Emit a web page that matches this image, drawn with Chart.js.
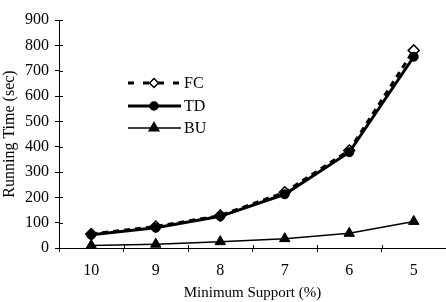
<!DOCTYPE html>
<html>
<head>
<meta charset="utf-8">
<script src="https://cdn.jsdelivr.net/npm/chart.js@4"></script>
<style>
  html, body { margin: 0; padding: 0; background: #fff; }
  #wrap { width: 446px; height: 302px; }
</style>
</head>
<body>
<div id="wrap"><canvas id="chart"></canvas></div>
<script>
const supports = ['10', '9', '8', '7', '6', '5'];
const fcTimes = [55, 85, 128, 220, 385, 780];
const tdTimes = [52, 80, 125, 212, 378, 755];
const buTimes = [10, 15, 25, 37, 58, 105];

const FONT = "'Liberation Serif', 'Times New Roman', serif";

// little in-plot legend, line + marker + label like the original figure
const legendBox = {
  id: 'legendBox',
  afterDraw(chart) {
    const ctx = chart.ctx;
    const rows = [
      { label: 'FC', y: 83, width: 3, dash: [6, 9], marker: 'rectRot', fill: '#fff', r: 4.5 },
      { label: 'TD', y: 106, width: 3, dash: [], marker: 'circle', fill: '#000', r: 4 },
      { label: 'BU', y: 128, width: 1.5, dash: [], marker: 'triangle', fill: '#000', r: 5.5 }
    ];
    ctx.save();
    rows.forEach(r => {
      ctx.strokeStyle = '#000';
      ctx.lineWidth = r.width;
      ctx.setLineDash(r.dash);
      ctx.beginPath();
      ctx.moveTo(128, r.y);
      ctx.lineTo(181, r.y);
      ctx.stroke();
      ctx.setLineDash([]);
      ctx.fillStyle = r.fill;
      ctx.lineWidth = 1.5;
      Chart.helpers.drawPoint(ctx, { pointStyle: r.marker, radius: r.r, borderWidth: 1.5 }, 154, r.y);
      ctx.fillStyle = '#000';
      ctx.font = '16px ' + FONT;
      ctx.textBaseline = 'middle';
      ctx.fillText(r.label, 184, r.y + 1);
    });
    ctx.restore();
  }
};

// tick marks that cross the axis lines
const innerTicks = {
  id: 'innerTicks',
  afterDraw(chart) {
    const ctx = chart.ctx;
    const x = chart.scales.x, y = chart.scales.y;
    ctx.save();
    ctx.strokeStyle = '#000';
    ctx.lineWidth = 1;
    ctx.beginPath();
    y.ticks.forEach((t, i) => {
      const py = Math.round(y.getPixelForTick(i)) + 0.5;
      ctx.moveTo(x.left, py);
      ctx.lineTo(x.left + 4, py);
    });
    for (let i = 0; i <= supports.length; i++) {
      const px = Math.round(x.left + (x.right - x.left) * i / supports.length) + 0.5;
      ctx.moveTo(px, y.bottom);
      ctx.lineTo(px, y.bottom - 3);
    }
    ctx.stroke();
    ctx.restore();
  }
};

new Chart(document.getElementById('chart'), {
  type: 'line',
  data: {
    labels: supports,
    datasets: [
      {
        label: 'BU',
        data: buTimes,
        borderColor: '#000',
        backgroundColor: '#000',
        borderWidth: 1.5,
        pointStyle: 'triangle',
        pointRadius: 6,
        pointBorderWidth: 1
      },
      {
        label: 'TD',
        data: tdTimes,
        borderColor: '#000',
        backgroundColor: '#000',
        borderWidth: 3,
        pointStyle: 'circle',
        pointRadius: 4.5,
        pointBorderWidth: 1
      },
      {
        label: 'FC',
        data: fcTimes,
        borderColor: '#000',
        backgroundColor: '#fff',
        borderWidth: 3,
        borderDash: [6, 5],
        pointStyle: 'rectRot',
        pointRadius: 5.5,
        pointBorderWidth: 1.5
      }
    ]
  },
  options: {
    responsive: true,
    maintainAspectRatio: false,
    animation: false,
    layout: { autoPadding: false, padding: { top: 20, right: 0, left: 0, bottom: 0 } },
    plugins: {
      legend: { display: false },
      tooltip: { enabled: false }
    },
    scales: {
      x: {
        offset: true,
        grid: { display: true, drawOnChartArea: false, offset: true, tickLength: 4, color: '#000' },
        border: { color: '#000', width: 1 },
        ticks: { color: '#000', font: { family: FONT, size: 16 }, padding: 9 },
        title: { display: true, text: 'Minimum Support (%)', color: '#000', font: { family: FONT, size: 15 }, padding: { top: 2, bottom: 0 } },
        afterFit(scale) { scale.height = 54; }
      },
      y: {
        min: 0,
        max: 900,
        ticks: { stepSize: 100, color: '#000', font: { family: FONT, size: 16 }, padding: 6 },
        grid: { display: true, drawOnChartArea: false, tickLength: 4, color: '#000' },
        border: { color: '#000', width: 1 },
        title: { display: true, text: 'Running Time (sec)', color: '#000', font: { family: FONT, size: 16 }, padding: 0 },
        afterFit(scale) { scale.width = 59; }
      }
    }
  },
  plugins: [legendBox, innerTicks]
});
</script>
</body>
</html>
